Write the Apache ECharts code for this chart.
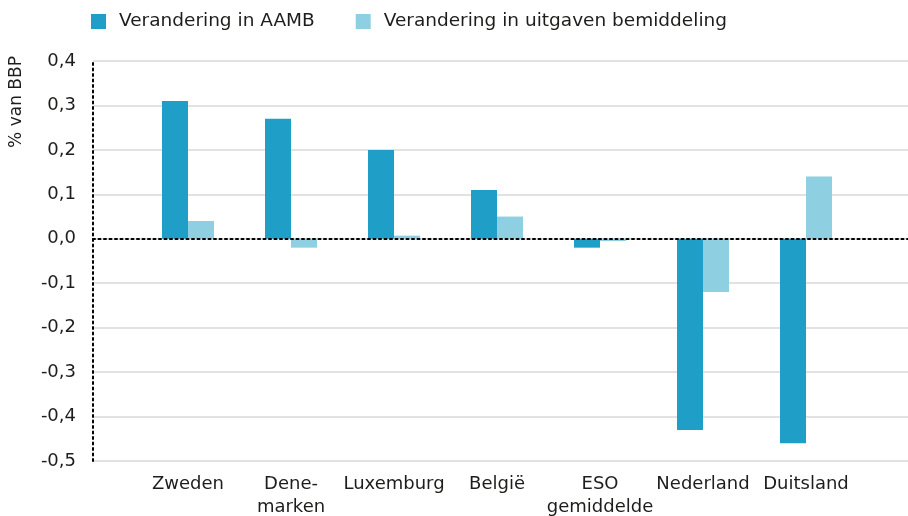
<!DOCTYPE html>
<html>
<head>
<meta charset="utf-8">
<script src="https://cdn.jsdelivr.net/npm/echarts@6/dist/echarts.min.js"></script>
<style>
  html, body { margin: 0; padding: 0; background: #fff; }
  #chart { width: 908px; height: 516px; }
</style>
</head>
<body>
<div id="chart"></div>
<script>
const countries = ['Zweden', 'Dene-\nmarken', 'Luxemburg', 'België', 'ESO\ngemiddelde', 'Nederland', 'Duitsland']
const aambChange = [0.31, 0.27, 0.20, 0.11, -0.02, -0.43, -0.46]
const brokerageChange = [0.04, -0.02, 0.007, 0.05, -0.005, -0.12, 0.14]
const seriesNames = ['Verandering in AAMB', 'Verandering in uitgaven bemiddeling']

const FONT = 'DejaVu Sans'
const TEXT = '#1d1d1b'
const DARK = '#1f9fc7'
const LIGHT = '#8fcfe2'

const chart = echarts.init(document.getElementById('chart'), null, { renderer: 'canvas' })

const fmt = v => (Math.abs(v) < 1e-9 ? 0 : v).toFixed(1).replace('.', ',')

chart.setOption({
  backgroundColor: '#fff',
  animation: false,
  textStyle: { fontFamily: FONT, color: TEXT },
  legend: {
    left: 91,
    top: 12,
    padding: 0,
    itemWidth: 15,
    itemHeight: 15,
    itemGap: 41,
    icon: 'rect',
    textStyle: { fontFamily: FONT, fontSize: 18.5, color: TEXT, padding: [0, 0, 0, 8] },
    data: seriesNames,
  },
  graphic: [
    {
      type: 'text',
      x: 17,
      y: 102,
      rotation: Math.PI / 2,
      style: {
        text: '% van BBP',
        font: '17px "DejaVu Sans"',
        fill: TEXT,
        align: 'center',
        verticalAlign: 'middle',
      },
    },
  ],
  grid: [
    // background grid: y labels, gridlines, dotted axis lines
    { left: 93, right: 0, top: 61, bottom: 55, outerBoundsMode: 'none' },
    // bar grid
    { left: 136.5, right: 50.5, top: 61, bottom: 55, outerBoundsMode: 'none' },
  ],
  xAxis: [
    {
      gridIndex: 0,
      type: 'value',
      min: 0,
      max: 1,
      z: 5,
      axisLine: { show: true, onZero: true, lineStyle: { color: '#000', width: 2, type: [2, 3.5] } },
      axisTick: { show: false },
      axisLabel: { show: false },
      splitLine: { show: false },
    },
    {
      gridIndex: 1,
      type: 'category',
      data: countries,
      axisLine: { show: false, onZero: false },
      axisTick: { show: false },
      axisLabel: {
        fontFamily: FONT,
        fontSize: 18,
        color: TEXT,
        margin: 12,
        lineHeight: 23,
        interval: 0,
      },
    },
  ],
  yAxis: [
    {
      gridIndex: 0,
      type: 'value',
      min: -0.5,
      max: 0.4,
      interval: 0.1,
      axisLine: { show: true, onZero: false, lineStyle: { color: '#000', width: 2, type: [2, 3.5] } },
      axisTick: { show: false },
      axisLabel: { fontFamily: FONT, fontSize: 18, color: TEXT, margin: 17, formatter: fmt },
      splitLine: { show: true, lineStyle: { color: '#d9d9d9', width: 1.5 } },
    },
    {
      gridIndex: 1,
      type: 'value',
      min: -0.5,
      max: 0.4,
      interval: 0.1,
      show: false,
    },
  ],
  series: [
    {
      name: seriesNames[0],
      type: 'bar',
      xAxisIndex: 1,
      yAxisIndex: 1,
      barWidth: 26,
      barGap: '0%',
      itemStyle: { color: DARK },
      data: aambChange,
    },
    {
      name: seriesNames[1],
      type: 'bar',
      xAxisIndex: 1,
      yAxisIndex: 1,
      barWidth: 26,
      barGap: '0%',
      itemStyle: { color: LIGHT },
      data: brokerageChange,
    },
  ],
})
</script>
</body>
</html>
